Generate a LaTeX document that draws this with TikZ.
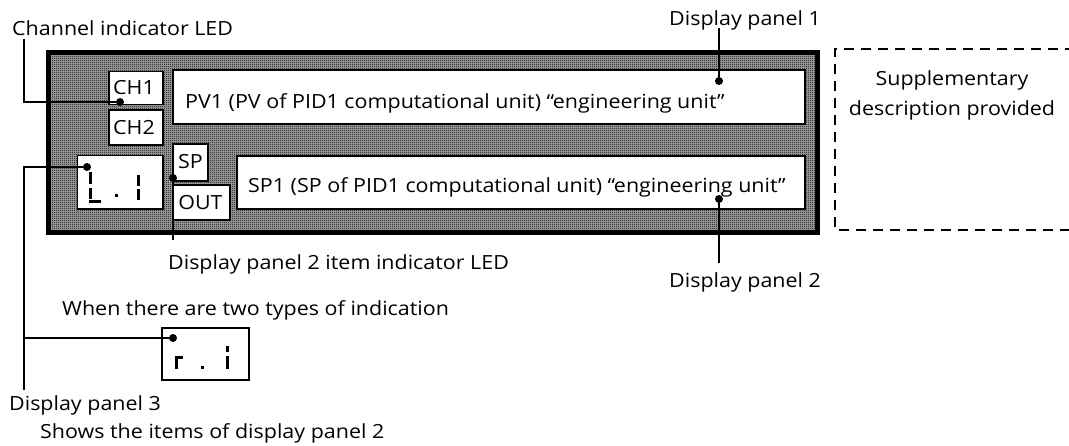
\documentclass[tikz,border=0pt]{standalone}
\usepackage{fontspec}
\setmainfont{Open Sans}[FakeStretch=1.1]
\usetikzlibrary{patterns}
\pgfdeclarepatternformonly{checker}{\pgfpointorigin}{\pgfpoint{2pt}{2pt}}{\pgfpoint{2pt}{2pt}}{%
  \pgfpathrectangle{\pgfpointorigin}{\pgfpoint{1pt}{1pt}}%
  \pgfpathrectangle{\pgfpoint{1pt}{1pt}}{\pgfpoint{1pt}{1pt}}%
  \pgfusepath{fill}}
\begin{document}
\begin{tikzpicture}[x=1pt,y=-1pt,
  lbl/.style={font=\fontsize{19.5}{22}\selectfont, inner sep=0pt},
  box/.style={draw, line width=1.8pt, fill=white, inner sep=0pt},
  lead/.style={line width=2pt},
  dotm/.style={circle, fill, inner sep=0pt, minimum size=8pt},
  seg/.style={line width=3pt}]
\useasboundingbox (0,0) rectangle (1069,445);
% outer panel
\node (panel) [draw, line width=5pt, preaction={fill=black!35}, pattern=checker, inner sep=0pt, minimum width=769pt, minimum height=180.5pt, anchor=north west] at (45.5,49.5) {};
% inner boxes
\node (ch1) [box, minimum width=54pt, minimum height=33pt] at (136,88) {};
\node (ch2) [box, minimum width=54pt, minimum height=35pt] at (136,127.5) {};
\node (l1) [box, minimum width=85.5pt, minimum height=53.5pt] at (120.25,182.25) {};
\node (sp) [box, minimum width=35pt, minimum height=37pt] at (190.5,162.5) {};
\node (out) [box, minimum width=57pt, minimum height=35pt] at (201.5,202.5) {};
\node (pv1) [box, minimum width=632pt, minimum height=54pt] at (489,97) {};
\node (sp1) [box, minimum width=568pt, minimum height=53pt] at (521,182.5) {};
\node (r1) [box, minimum width=87pt, minimum height=52pt] at (205.5,354) {};
% box texts
\node (ch1t) [lbl, anchor=base] at (134,94) {CH1};
\node (ch2t) [lbl, anchor=base] at (134,134) {CH2};
\node (spt) [lbl, anchor=base] at (190.5,168) {SP};
\node (outt) [lbl, anchor=base] at (200.5,209) {OUT};
\node (pv1t) [lbl, anchor=base west] at (185,108) {PV1 (PV of PID1 computational unit) “engineering unit”};
\node (sp1t) [lbl, anchor=base west] at (248,192) {SP1 (SP of PID1 computational unit) “engineering unit”};
% seven segment digits
\draw[seg] (90,172) -- (90,184) (90,188) -- (90,199) (89,201) -- (101,201);
\fill (114.5,193.5) rectangle (117.5,196.5);
\draw[seg] (138,175) -- (138,186) (138,189) -- (138,200);
\draw[seg] (176,369) -- (176,357) -- (183,357);
\fill (200.5,365.5) rectangle (203.5,368.5);
\draw[seg] (227,346) -- (227,352) (227,356) -- (227,369);
% supplementary dashed box
\draw[line width=2pt, dash pattern=on 10pt off 7pt] (1075,49) -- (835,49) -- (835,230) -- (1075,230);
\node (supp) [lbl, anchor=base] at (952,85) {Supplementary};
\node (supp2) [lbl, anchor=base] at (952,115) {description provided};
% labels
\node (chled) [lbl, anchor=base west] at (12,35) {Channel indicator LED};
\node (dp1) [lbl, anchor=base west] at (669,25) {Display panel 1};
\node (dp2) [lbl, anchor=base west] at (669,287) {Display panel 2};
\node (dp2led) [lbl, anchor=base west] at (168,269) {Display panel 2 item indicator LED};
\node (two) [lbl, anchor=base west] at (62,315) {When there are two types of indication};
\node (dp3) [lbl, anchor=base west] at (9,410) {Display panel 3};
\node (shows) [lbl, anchor=base west] at (40,438) {Shows the items of display panel 2};
% dots
\node (chdot) [dotm] at (120,102) {};
\node (l1dot) [dotm] at (87,167) {};
\node (spdot) [dotm] at (173,178) {};
\node (pv1dot) [dotm] at (719,81) {};
\node (sp1dot) [dotm] at (719,199) {};
\node (r1dot) [dotm] at (173,338) {};
% leader ends
\coordinate (chtop) at (24,39);
\coordinate (dp3end) at (24,390);
\coordinate (spend) at (173,240);
\coordinate (dp1end) at (719,28);
\coordinate (dp2end) at (719,263);
% leaders
\draw[lead] (chtop) |- (chdot);
\draw[lead] (l1dot) -| (dp3end);
\draw[lead] (r1dot) -- (r1dot -| dp3end);
\draw[lead] (spdot) -- (spend);
\draw[lead] (dp1end) -- (pv1dot);
\draw[lead] (sp1dot) -- (dp2end);
\end{tikzpicture}
\end{document}
